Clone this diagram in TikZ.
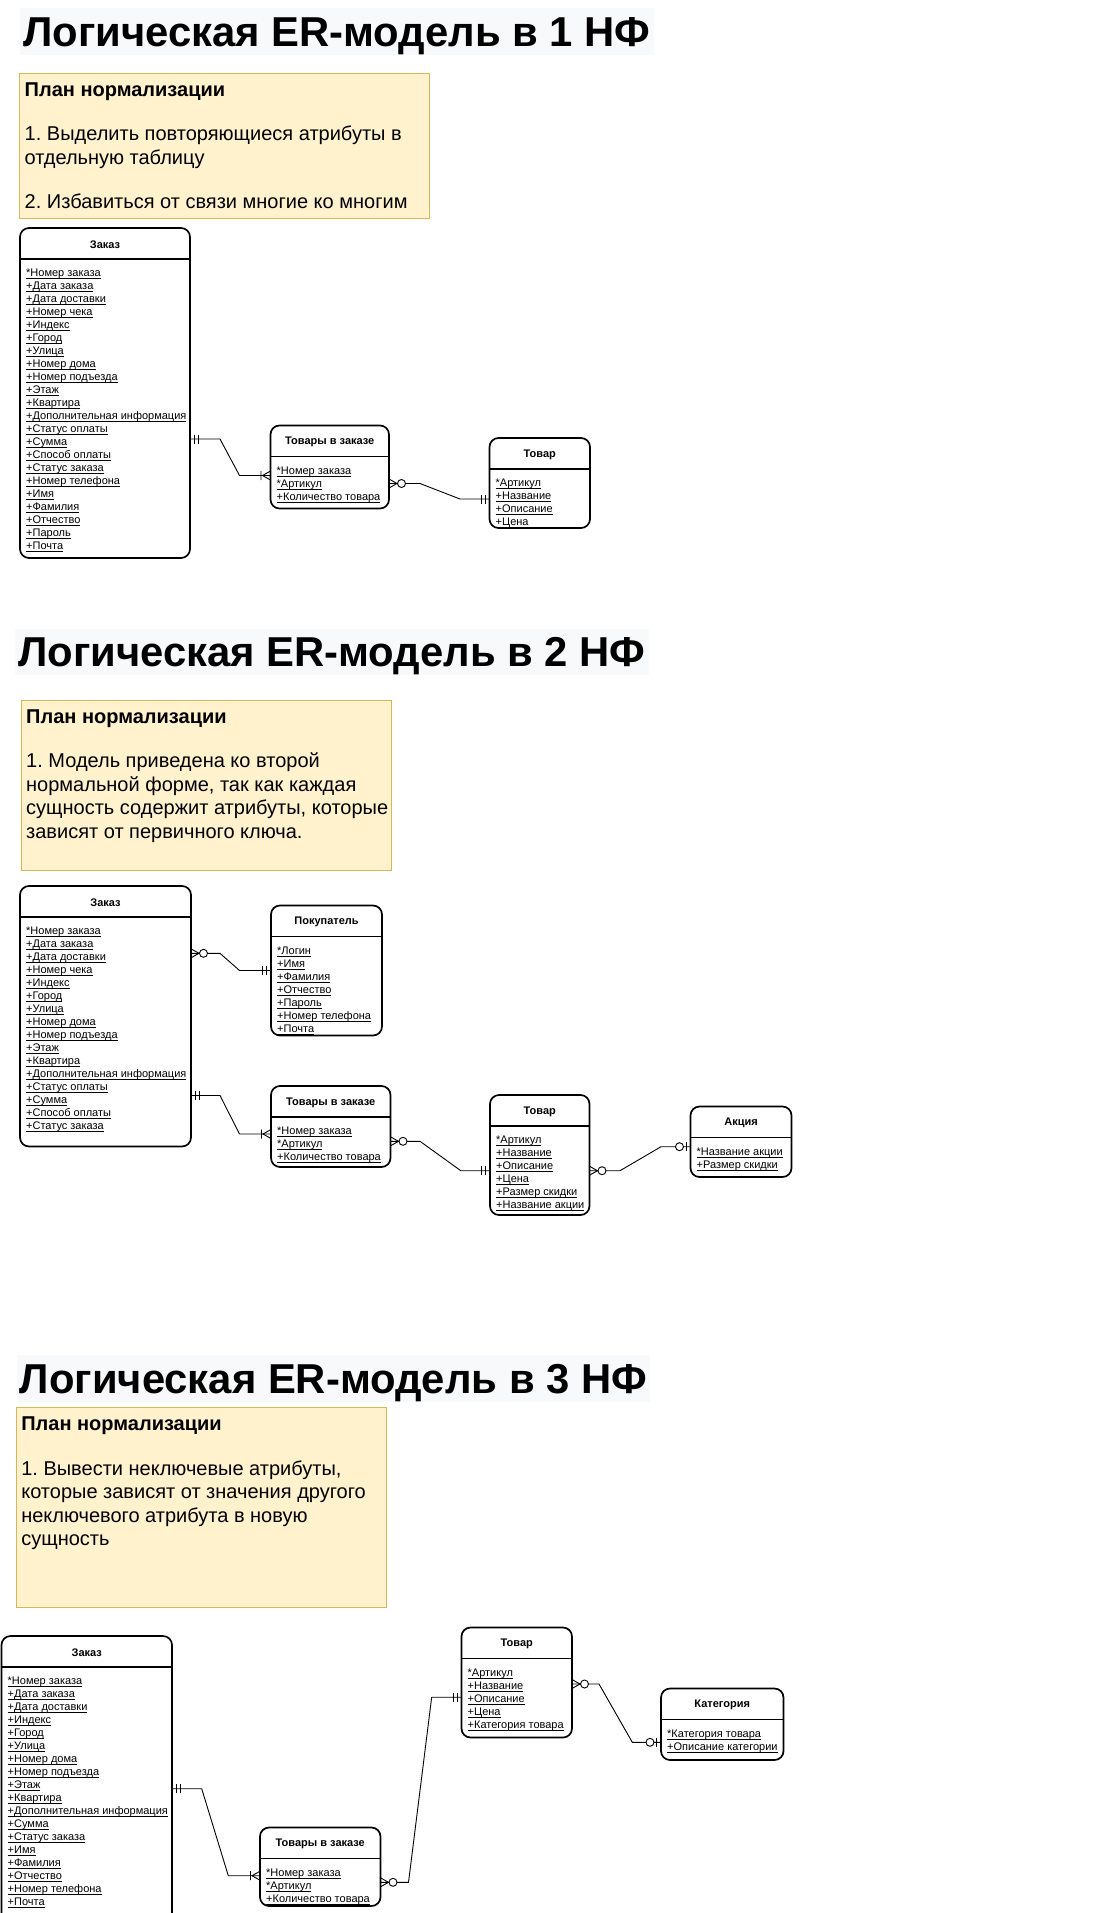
\documentclass[tikz,border=0pt]{standalone}
\usepackage{fontspec}
\setmainfont{Liberation Sans}
\usepackage{xcolor}
\usepackage{tikz}
\usetikzlibrary{positioning,decorations.markings}
\definecolor{notefill}{HTML}{FFF2CC}
\definecolor{notedraw}{HTML}{D6B656}
\definecolor{headbg}{HTML}{F8F9FA}
\newcommand{\uln}[1]{\sbox0{#1}\rlap{\rule[-2.4pt]{\wd0}{0.8pt}}\usebox0}
\frenchspacing

\begin{document}
\begin{tikzpicture}[
  x=1pt, y=1pt,
  heading/.style={fill=headbg, anchor=north west, font=\fontsize{41.8}{48}\selectfont\bfseries,
                  inner xsep=3pt, inner ysep=0pt, minimum height=46.7pt,
                  text height=34pt, text depth=4pt},
  note/.style={draw=notedraw, fill=notefill, line width=0.9pt, anchor=north west, inner sep=0pt},
  notetext/.style={font=\fontsize{20}{23.5}\selectfont, align=left, inner sep=0pt},
  entity/.style={draw, line width=1.7pt, rounded corners=9pt, anchor=north west,
                 inner sep=0pt, outer sep=0pt,
                 path picture={\draw[line width=1.7pt]
                   ([yshift=-31pt]path picture bounding box.north west) --
                   ([yshift=-31pt]path picture bounding box.north east);}},
  enttitle/.style={font=\fontsize{11}{13}\selectfont\bfseries, inner sep=0pt},
  attr/.style={font=\fontsize{11}{13}\selectfont, align=left, inner sep=0pt},
  conn/.style={line width=0.9pt},
  mand one start/.style={postaction={decorate, decoration={markings, mark=at position 0 with
      {\draw[conn] (4.5pt,-4.5pt) -- (4.5pt,4.5pt) (8.5pt,-4.5pt) -- (8.5pt,4.5pt);}}}},
  zero many start/.style={postaction={decorate, decoration={markings, mark=at position 0 with
      {\draw[conn] (0pt,4.5pt) -- (8pt,0pt) -- (0pt,-4.5pt);
       \draw[conn, fill=white] (12.5pt,0pt) circle (4pt);}}}},
  mand one end/.style={postaction={decorate, decoration={markings, mark=at position 1 with
      {\draw[conn] (-4.5pt,-4.5pt) -- (-4.5pt,4.5pt) (-8.5pt,-4.5pt) -- (-8.5pt,4.5pt);}}}},
  one many end/.style={postaction={decorate, decoration={markings, mark=at position 1 with
      {\draw[conn] (0pt,4.5pt) -- (-8pt,0pt) -- (0pt,-4.5pt) (-9.5pt,4.5pt) -- (-9.5pt,-4.5pt);}}}},
  zero one end/.style={postaction={decorate, decoration={markings, mark=at position 1 with
      {\draw[conn] (-4.5pt,-4.5pt) -- (-4.5pt,4.5pt);
       \draw[conn, fill=white] (-11pt,0pt) circle (4pt);}}}}
]
\useasboundingbox (0,0) rectangle (1099,-1913);
\fill[white] (0,0) rectangle (1099,-1913);
\clip (0,0) rectangle (1099,-1913);

% ---------- 1 NF ----------
\node (head1) [heading] at (20,-8.3) {Логическая ER-модель в 1 НФ};

\node (plan1) [note, minimum width=410pt, minimum height=145pt] at (19,-73) {};
\node (plan1-text) [notetext, below right=9.5pt and 5.5pt of plan1.north west]
    {\textbf{План нормализации}\\[21pt]
     1. Выделить повторяющиеся атрибуты в\\
     отдельную таблицу\\[21pt]
     2. Избавиться от связи многие ко многим};

\node (zakaz1) [entity, minimum width=170pt, minimum height=330pt] at (20,-228) {};
\node (zakaz1-t) [enttitle] at ([yshift=-16.5pt]zakaz1.north) {Заказ};
\node (zakaz1-a) [attr, below right=41pt and 6pt of zakaz1.north west]
    {\uln{*Номер заказа}\\ \uln{+Дата заказа}\\ \uln{+Дата доставки}\\
     \uln{+Номер чека}\\ \uln{+Индекс}\\ \uln{+Город}\\ \uln{+Улица}\\
     \uln{+Номер дома}\\ \uln{+Номер подъезда}\\ \uln{+Этаж}\\ \uln{+Квартира}\\
     \uln{+Дополнительная информация}\\ \uln{+Статус оплаты}\\ \uln{+Сумма}\\
     \uln{+Способ оплаты}\\ \uln{+Статус заказа}\\ \uln{+Номер телефона}\\
     \uln{+Имя}\\ \uln{+Фамилия}\\ \uln{+Отчество}\\ \uln{+Пароль}\\ \uln{+Почта}};

\node (tovzak1) [entity, minimum width=118.5pt, minimum height=83pt] at (270.5,-425.5) {};
\node (tovzak1-t) [enttitle] at ([yshift=-16.5pt]tovzak1.north) {Товары в заказе};
\node (tovzak1-a) [attr, below right=41pt and 6pt of tovzak1.north west]
    {\uln{*Номер заказа}\\ \uln{*Артикул}\\ \uln{+Количество товара}};

\node (tovar1) [entity, minimum width=100.5pt, minimum height=90pt] at (489.5,-438) {};
\node (tovar1-t) [enttitle] at ([yshift=-16.5pt]tovar1.north) {Товар};
\node (tovar1-a) [attr, below right=41pt and 6pt of tovar1.north west]
    {\uln{*Артикул}\\ \uln{+Название}\\ \uln{+Описание}\\ \uln{+Цена}};

\draw [conn, mand one start, one many end] ([yshift=-211pt]zakaz1.north east) -- ++(30,0)
    -- ([xshift=-31pt,yshift=-50pt]tovzak1.north west) -- ([yshift=-50pt]tovzak1.north west);
\draw [conn, zero many start, mand one end] ([yshift=-58pt]tovzak1.north east) -- ++(31,0)
    -- ([xshift=-29.5pt,yshift=-61pt]tovar1.north west) -- ([yshift=-61pt]tovar1.north west);

% ---------- 2 NF ----------
\node (head2) [heading] at (15,-628.3) {Логическая ER-модель в 2 НФ};

\node (plan2) [note, minimum width=370pt, minimum height=169.5pt] at (20.5,-700) {};
\node (plan2-text) [notetext, below right=9.5pt and 5.5pt of plan2.north west]
    {\textbf{План нормализации}\\[21pt]
     1. Модель приведена ко второй\\
     нормальной форме, так как каждая\\
     сущность содержит атрибуты, которые\\
     зависят от первичного ключа.};

\node (zakaz2) [entity, minimum width=171pt, minimum height=260.5pt] at (20,-886) {};
\node (zakaz2-t) [enttitle] at ([yshift=-16.5pt]zakaz2.north) {Заказ};
\node (zakaz2-a) [attr, below right=41pt and 6pt of zakaz2.north west]
    {\uln{*Номер заказа}\\ \uln{+Дата заказа}\\ \uln{+Дата доставки}\\
     \uln{+Номер чека}\\ \uln{+Индекс}\\ \uln{+Город}\\ \uln{+Улица}\\
     \uln{+Номер дома}\\ \uln{+Номер подъезда}\\ \uln{+Этаж}\\ \uln{+Квартира}\\
     \uln{+Дополнительная информация}\\ \uln{+Статус оплаты}\\ \uln{+Сумма}\\
     \uln{+Способ оплаты}\\ \uln{+Статус заказа}};

\node (pokup2) [entity, minimum width=111pt, minimum height=130pt] at (271,-905.5) {};
\node (pokup2-t) [enttitle] at ([yshift=-16.5pt]pokup2.north) {Покупатель};
\node (pokup2-a) [attr, below right=41pt and 6pt of pokup2.north west]
    {\uln{*Логин}\\ \uln{+Имя}\\ \uln{+Фамилия}\\ \uln{+Отчество}\\
     \uln{+Пароль}\\ \uln{+Номер телефона}\\ \uln{+Почта}};

\node (tovzak2) [entity, minimum width=119.5pt, minimum height=81pt] at (271,-1086) {};
\node (tovzak2-t) [enttitle] at ([yshift=-16.5pt]tovzak2.north) {Товары в заказе};
\node (tovzak2-a) [attr, below right=41pt and 6pt of tovzak2.north west]
    {\uln{*Номер заказа}\\ \uln{*Артикул}\\ \uln{+Количество товара}};

\node (tovar2) [entity, minimum width=99.5pt, minimum height=120pt] at (490,-1095) {};
\node (tovar2-t) [enttitle] at ([yshift=-16.5pt]tovar2.north) {Товар};
\node (tovar2-a) [attr, below right=41pt and 6pt of tovar2.north west]
    {\uln{*Артикул}\\ \uln{+Название}\\ \uln{+Описание}\\ \uln{+Цена}\\
     \uln{+Размер скидки}\\ \uln{+Название акции}};

\node (akcia2) [entity, minimum width=101pt, minimum height=70.5pt] at (690.5,-1106.5) {};
\node (akcia2-t) [enttitle] at ([yshift=-16.5pt]akcia2.north) {Акция};
\node (akcia2-a) [attr, below right=41pt and 6pt of akcia2.north west]
    {\uln{*Название акции}\\ \uln{+Размер скидки}};

\draw [conn, zero many start, mand one end] ([yshift=-67.3pt]zakaz2.north east) -- ++(29,0)
    -- ([xshift=-31.5pt,yshift=-65pt]pokup2.north west) -- ([yshift=-65pt]pokup2.north west);
\draw [conn, mand one start, one many end] ([yshift=-209.5pt]zakaz2.north east) -- ++(29,0)
    -- ([xshift=-31.5pt,yshift=-48pt]tovzak2.north west) -- ([yshift=-48pt]tovzak2.north west);
\draw [conn, zero many start, mand one end] ([yshift=-55.3pt]tovzak2.north east) -- ++(29.5,0)
    -- ([xshift=-29.2pt,yshift=-75.7pt]tovar2.north west) -- ([yshift=-75.7pt]tovar2.north west);
\draw [conn, zero many start, zero one end] ([yshift=-75.7pt]tovar2.north east) -- ++(30.5,0)
    -- ([xshift=-29.5pt,yshift=-40.2pt]akcia2.north west) -- ([yshift=-40.2pt]akcia2.north west);

% ---------- 3 NF ----------
\node (head3) [heading] at (16.5,-1355) {Логическая ER-модель в 3 НФ};

\node (plan3) [note, minimum width=370pt, minimum height=200pt] at (15.6,-1407.3) {};
\node (plan3-text) [notetext, below right=9.5pt and 5.5pt of plan3.north west]
    {\textbf{План нормализации}\\[21pt]
     1. Вывести неключевые атрибуты,\\
     которые зависят от значения другого\\
     неключевого атрибута в новую\\
     сущность};

\node (zakaz3) [entity, minimum width=170.5pt, minimum height=300pt] at (1.5,-1636) {};
\node (zakaz3-t) [enttitle] at ([yshift=-16.5pt]zakaz3.north) {Заказ};
\node (zakaz3-a) [attr, below right=41pt and 6pt of zakaz3.north west]
    {\uln{*Номер заказа}\\ \uln{+Дата заказа}\\ \uln{+Дата доставки}\\
     \uln{+Индекс}\\ \uln{+Город}\\ \uln{+Улица}\\ \uln{+Номер дома}\\
     \uln{+Номер подъезда}\\ \uln{+Этаж}\\ \uln{+Квартира}\\
     \uln{+Дополнительная информация}\\ \uln{+Сумма}\\ \uln{+Статус заказа}\\
     \uln{+Имя}\\ \uln{+Фамилия}\\ \uln{+Отчество}\\ \uln{+Номер телефона}\\
     \uln{+Почта}};

\node (tovzak3) [entity, minimum width=120.5pt, minimum height=78.5pt] at (260,-1827.5) {};
\node (tovzak3-t) [enttitle] at ([yshift=-16.5pt]tovzak3.north) {Товары в заказе};
\node (tovzak3-a) [attr, below right=41pt and 6pt of tovzak3.north west]
    {\uln{*Номер заказа}\\ \uln{*Артикул}\\ \uln{+Количество товара}};

\node (tovar3) [entity, minimum width=110.5pt, minimum height=110pt] at (461.5,-1627.5) {};
\node (tovar3-t) [enttitle] at ([yshift=-16.5pt]tovar3.north) {Товар};
\node (tovar3-a) [attr, below right=41pt and 6pt of tovar3.north west]
    {\uln{*Артикул}\\ \uln{+Название}\\ \uln{+Описание}\\ \uln{+Цена}\\
     \uln{+Категория товара}};

\node (kateg3) [entity, minimum width=122.5pt, minimum height=71.5pt] at (661,-1688.5) {};
\node (kateg3-t) [enttitle] at ([yshift=-16.5pt]kateg3.north) {Категория};
\node (kateg3-a) [attr, below right=41pt and 6pt of kateg3.north west]
    {\uln{*Категория товара}\\ \uln{+Описание категории}};

\draw [conn, mand one start, one many end] ([yshift=-152.7pt]zakaz3.north east) -- ++(29.7,0)
    -- ([xshift=-31.7pt,yshift=-48.2pt]tovzak3.north west) -- ([yshift=-48.2pt]tovzak3.north west);
\draw [conn, zero many start, mand one end] ([yshift=-54.8pt]tovzak3.north east) -- ++(28,0)
    -- ([xshift=-29.8pt,yshift=-69.7pt]tovar3.north west) -- ([yshift=-69.7pt]tovar3.north west);
\draw [conn, zero many start, zero one end] ([yshift=-56.5pt]tovar3.north east) -- ++(27,0)
    -- ([xshift=-28.7pt,yshift=-53.8pt]kateg3.north west) -- ([yshift=-53.8pt]kateg3.north west);

\end{tikzpicture}
\end{document}
